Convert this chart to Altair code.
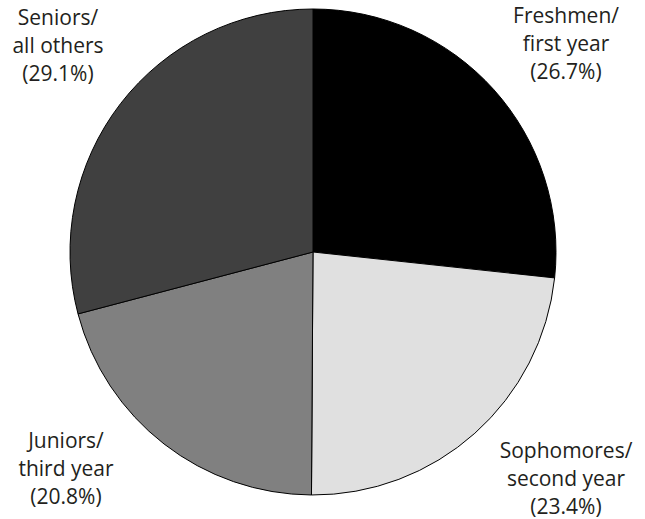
import altair as alt
import pandas as pd

# Class standing of respondents, clockwise from 12 o'clock
categories = ["Freshmen", "Sophomores", "Juniors", "Seniors"]
subtitles = ["first year", "second year", "third year", "all others"]
shares = [26.7, 23.4, 20.8, 29.1]
fills = ["#000000", "#e0e0e0", "#808080", "#404040"]

df = pd.DataFrame({
    "category": categories,
    "subtitle": subtitles,
    "share": shares,
    "order": list(range(len(categories))),
})
df["label"] = df.apply(
    lambda r: f"{r['category']}/\n{r['subtitle']}\n({r['share']:.1f}%)", axis=1
)

W, H = 645, 519
CX, CY, R = 313, 252, 243

pie = alt.Chart(df).mark_arc(
    outerRadius=R, stroke="#000000", strokeWidth=1
).encode(
    theta=alt.Theta("share:Q", stack=True),
    order=alt.Order("order:Q"),
    color=alt.Color("category:N", scale=alt.Scale(domain=categories, range=fills), legend=None),
    x=alt.value(CX),
    y=alt.value(CY),
)

# Label anchors in the four corners (center x, first-line baseline y)
anchors = {
    "Freshmen": (566, 23),
    "Sophomores": (566, 458),
    "Juniors": (66, 448),
    "Seniors": (58, 25),
}

layers = [pie]
for cat in categories:
    ax, ay = anchors[cat]
    layers.append(
        alt.Chart(df).transform_filter(alt.datum.category == cat).mark_text(
            font="Open Sans", fontSize=21, lineBreak="\n", lineHeight=28,
            align="center", baseline="alphabetic", color="#231f20",
        ).encode(text="label:N", x=alt.value(ax), y=alt.value(ay))
    )

chart = alt.layer(*layers).properties(
    width=W, height=H, padding=0, autosize=alt.AutoSizeParams(type="none")
).configure_view(stroke=None)

chart.save("out.html", embed_options={"renderer": "svg", "actions": False})
